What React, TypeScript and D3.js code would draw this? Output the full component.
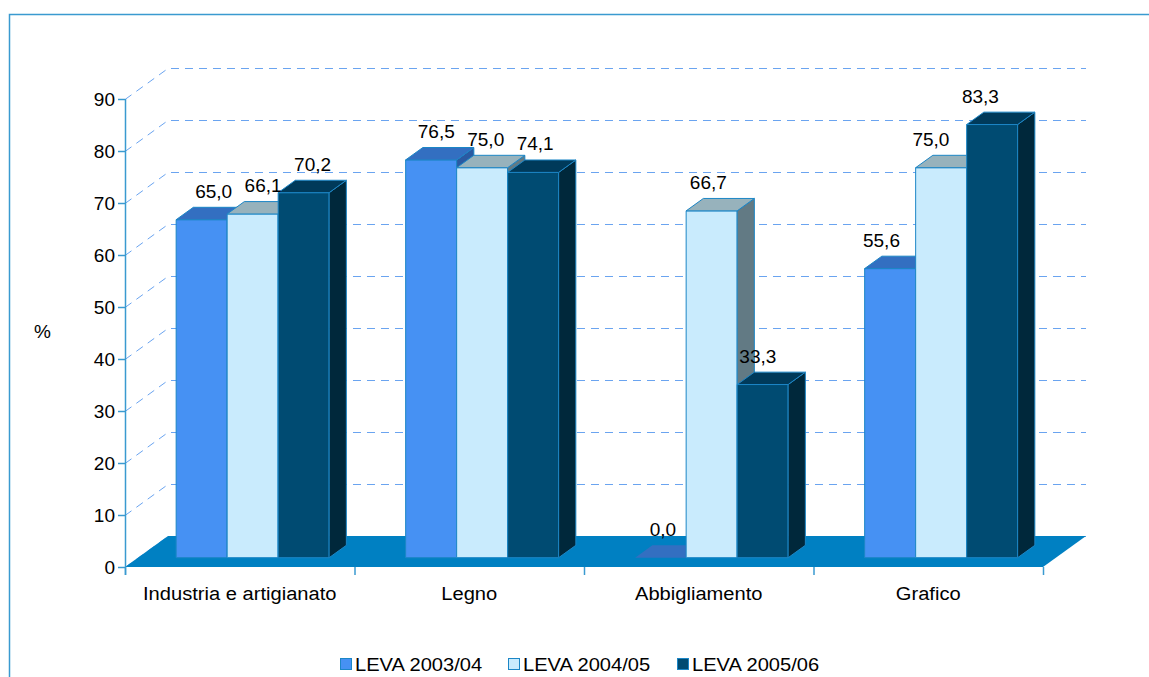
import { useEffect, useRef } from 'react';
import * as d3 from 'd3';

const categories = ['Industria e artigianato', 'Legno', 'Abbigliamento', 'Grafico'];
const seriesNames = ['LEVA 2003/04', 'LEVA 2004/05', 'LEVA 2005/06'];
const leva0304 = [65.0, 76.5, 0.0, 55.6];
const leva0405 = [66.1, 75.0, 66.7, 75.0];
const leva0506 = [70.2, 74.1, 33.3, 83.3];
const yTicks = [0, 10, 20, 30, 40, 50, 60, 70, 80, 90];

const W = 1149;
const H = 677;

// front, top, side colours per series
const palette = [
  { front: '#4691f3', top: '#336fc1', side: '#2a5aa2' },
  { front: '#c9ebfd', top: '#97b2bc', side: '#627a84' },
  { front: '#004b72', top: '#003a5a', side: '#00283b' },
];
const edge = '#1c86c6';
const axisColor = '#3a9ad0';
const gridColor = '#6aa4f0';
const floorColor = '#0080c2';
const font = '"Liberation Sans", Arial, sans-serif';

const fmt = (v: number) => v.toFixed(1).replace('.', ',');

export default function App() {
  const svgRef = useRef<SVGSVGElement>(null);

  useEffect(() => {
    if (!svgRef.current) return;
    const svg = d3.select(svgRef.current);
    svg.selectAll('*').remove();

    const values = [leva0304, leva0405, leva0506];

    const left = 125;
    const right = 1043;
    const x = d3.scaleBand<string>().domain(categories).range([left, right]).padding(0);
    const y = d3.scaleLinear().domain([0, 90]).range([567, 99]);

    // depth of the floor, bars sit in the middle of it
    const depth = { dx: 43, dy: -31 };
    const f0 = 0.3;
    const f1 = 0.7;
    const front = { dx: depth.dx * f0, dy: depth.dy * f0 };
    const side = { dx: depth.dx * (f1 - f0), dy: depth.dy * (f1 - f0) };

    const inner = d3.scaleBand<number>()
      .domain([0, 1, 2])
      .range([0, x.bandwidth()])
      .paddingInner(0)
      .paddingOuter(0.75);

    // frame
    svg.append('rect').attr('width', W).attr('height', H).attr('fill', '#ffffff');
    svg.append('path')
      .attr('d', `M9.5,${H} L9.5,14.5 L${W},14.5`)
      .attr('fill', 'none')
      .attr('stroke', axisColor)
      .attr('stroke-width', 1.5);

    // dashed grid: diagonal on the side + horizontal at the back
    const grid = svg.append('g')
      .attr('fill', 'none')
      .attr('stroke', gridColor)
      .attr('stroke-width', 1)
      .attr('stroke-dasharray', '8,6');
    yTicks.forEach(t => {
      const yy = y(t) + 0.5;
      grid.append('path')
        .attr('d', `M${left},${yy} L${left + depth.dx},${yy + depth.dy} L${right + depth.dx},${yy + depth.dy}`);
    });

    // floor
    const y0 = y(0);
    svg.append('path')
      .attr('d', `M${left},${y0} L${right},${y0} L${right + depth.dx},${y0 + depth.dy} L${left + depth.dx},${y0 + depth.dy} Z`)
      .attr('fill', floorColor);

    // y axis
    svg.append('line')
      .attr('x1', left + 0.5).attr('x2', left + 0.5)
      .attr('y1', y(90)).attr('y2', y0 + 8)
      .attr('stroke', axisColor).attr('stroke-width', 1.5);
    const yAxis = svg.append('g');
    yTicks.forEach(t => {
      yAxis.append('line')
        .attr('x1', left - 7).attr('x2', left)
        .attr('y1', y(t) + 0.5).attr('y2', y(t) + 0.5)
        .attr('stroke', axisColor).attr('stroke-width', 1.5);
      yAxis.append('text')
        .attr('x', 115)
        .attr('y', y(t))
        .attr('dy', '0.35em')
        .attr('text-anchor', 'end')
        .attr('font-family', font)
        .attr('font-size', '19px')
        .attr('fill', '#000')
        .text(t);
    });

    svg.append('text')
      .attr('x', 34).attr('y', 338)
      .attr('font-family', font).attr('font-size', '19px')
      .text('%');

    // x axis ticks + labels
    const xTicks = [...categories.map(c => x(c)!), right];
    xTicks.forEach(tx => {
      svg.append('line')
        .attr('x1', tx + 0.5).attr('x2', tx + 0.5)
        .attr('y1', y0).attr('y2', y0 + 8)
        .attr('stroke', axisColor).attr('stroke-width', 1.5);
    });
    categories.forEach(c => {
      const cx = x(c)! + x.bandwidth() / 2;
      svg.append('text')
        .attr('transform', `translate(${cx},600) scale(1.06,1)`)
        .attr('text-anchor', 'middle')
        .attr('font-family', font).attr('font-size', '19px')
        .text(c);
    });

    // labels are projected slightly toward the centre of the view
    const vanishX = 610;
    const pull = 0.03;

    // bars
    const bars = svg.append('g');
    const labels = svg.append('g');
    categories.forEach((c, ci) => {
      values.forEach((vals, si) => {
        const v = vals[ci];
        const col = palette[si];
        const bx = x(c)! + inner(si)! + front.dx;
        const bw = inner.bandwidth();
        const by0 = y0 + front.dy;
        const byt = y(v) + front.dy;
        const g = bars.append('g').attr('stroke', edge).attr('stroke-width', 1).attr('stroke-linejoin', 'round');

        if (v > 0) {
          g.append('rect')
            .attr('x', bx).attr('y', byt)
            .attr('width', bw).attr('height', by0 - byt)
            .attr('fill', col.front);
          g.append('path')
            .attr('d', `M${bx + bw},${byt} L${bx + bw + side.dx},${byt + side.dy} L${bx + bw + side.dx},${by0 + side.dy} L${bx + bw},${by0} Z`)
            .attr('fill', col.side);
        }
        g.append('path')
          .attr('d', `M${bx},${byt} L${bx + side.dx},${byt + side.dy} L${bx + bw + side.dx},${byt + side.dy} L${bx + bw},${byt} Z`)
          .attr('fill', col.top)
          .attr('stroke', v > 0 ? edge : 'none');

        const lx = bx + bw / 2 + side.dx / 2;
        labels.append('text')
          .attr('x', lx + (vanishX - lx) * pull - side.dx / 2 + (v > 0 ? 0 : 4))
          .attr('y', byt - 22)
          .attr('text-anchor', 'middle')
          .attr('font-family', font).attr('font-size', '19px')
          .attr('fill', '#000')
          .text(fmt(v));
      });
    });

    // legend
    const legX = [340, 508, 677];
    const legend = svg.append('g');
    seriesNames.forEach((name, i) => {
      legend.append('rect')
        .attr('x', legX[i] + 0.5).attr('y', 658.5)
        .attr('width', 11).attr('height', 11)
        .attr('fill', palette[i].front)
        .attr('stroke', edge).attr('stroke-width', 1);
      legend.append('text')
        .attr('transform', `translate(${legX[i] + 15},671) scale(1.06,1)`)
        .attr('font-family', font).attr('font-size', '19px')
        .text(name);
    });
  }, []);

  return (
    <div style={{ position: 'absolute', left: 0, top: 0 }}>
      <svg ref={svgRef} width={W} height={H} style={{ display: 'block' }} />
    </div>
  );
}
